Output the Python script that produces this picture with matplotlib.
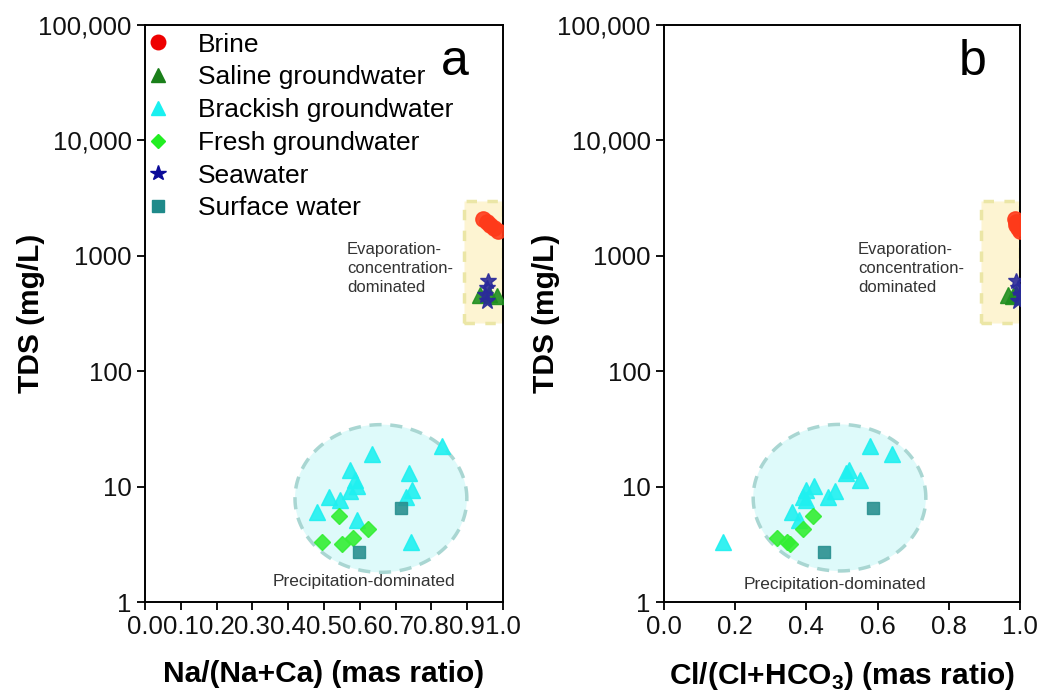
import matplotlib
matplotlib.use("Agg")
import matplotlib.pyplot as plt
from matplotlib.lines import Line2D
import numpy as np

plt.rcParams['font.family'] = ['Liberation Sans', 'DejaVu Sans']
plt.rcParams['mathtext.fontset'] = 'custom'
plt.rcParams['mathtext.rm'] = 'Liberation Sans'
plt.rcParams['mathtext.bf'] = 'Liberation Sans:bold'

# TDS (mg/L) per sample group, x-ratios for panel a (Na/(Na+Ca)) and b (Cl/(Cl+HCO3))
brine_tds = [2100, 1950, 1850, 1750, 1650]
brine_na = [0.944, 0.955, 0.965, 0.975, 0.985]
brine_cl = [0.985, 0.99, 0.99, 0.995, 1.0]

saline_tds = [460, 445, 470]
saline_na = [0.936, 0.983, 0.96]
saline_cl = [0.967, 0.981, 0.99]

brackish_tds = [22.7, 19.2, 13.8, 11.3, 10.2, 9.2, 8.1, 7.6, 6.0, 5.1, 13.1, 9.4, 8.2, 3.3]
brackish_na = [0.829, 0.633, 0.573, 0.587, 0.591, 0.573, 0.514, 0.545, 0.48, 0.591, 0.738, 0.745, 0.729, 0.743]
brackish_cl = [0.58, 0.64, 0.52, 0.55, 0.42, 0.48, 0.46, 0.40, 0.36, 0.38, 0.51, 0.40, 0.39, 0.165]

fresh_tds = [5.6, 3.3, 3.2, 3.6, 4.3]
fresh_na = [0.542, 0.494, 0.551, 0.580, 0.624]
fresh_cl = [0.419, 0.345, 0.354, 0.317, 0.390]

sea_tds = [600, 525, 460, 405]
sea_na = [0.959, 0.955, 0.95, 0.955]
sea_cl = [0.99, 0.995, 1.0, 0.995]

surface_tds = [6.5, 2.7]
surface_na = [0.714, 0.599]
surface_cl = [0.588, 0.450]

groups = [
    ("Brine", 'o', '#ff3a1a', '#ee0000', 11, brine_tds, brine_na, brine_cl),
    ("Saline groundwater", '^', '#1f8f1f', '#1a7f1a', 11, saline_tds, saline_na, saline_cl),
    ("Brackish groundwater", '^', '#1ff0f0', '#19f0f0', 11, brackish_tds, brackish_na, brackish_cl),
    ("Fresh groundwater", 'D', '#33ee33', '#22ee22', 8, fresh_tds, fresh_na, fresh_cl),
    ("Seawater", '*', '#2a2a9a', '#0a0a99', 12, sea_tds, sea_na, sea_cl),
    ("Surface water", 's', '#2a9090', '#1f8a8a', 8.5, surface_tds, surface_na, surface_cl),
]

fig = plt.figure(figsize=(10.39, 6.96), dpi=100)
ax_a = fig.add_axes([145/1039, 94/696, 358/1039, 577/696])
ax_b = fig.add_axes([664/1039, 94/696, 356/1039, 577/696])

yticks = [1, 10, 100, 1000, 10000, 100000]
ylabels = ['1', '10', '100', '1000', '10,000', '100,000']


def draw_panel(ax, col, ell, txt_evap, txt_prec, letter):
    # evaporation box
    ax.fill([0.89, 1.0, 1.0, 0.89], [260, 260, 3000, 3000], facecolor='#fdf4d2',
            edgecolor='#ebe6a6', lw=2.5, ls=(0, (3, 3)), zorder=1)
    # precipitation ellipse (drawn in x / log10(TDS) space)
    t = np.linspace(0, 2*np.pi, 200)
    cx, rx, cy, ry = ell
    ex = cx + rx*np.cos(t)
    ey = 10**(cy + ry*np.sin(t))
    ax.fill(ex, ey, facecolor='#defafa', edgecolor='#a9d6d2', lw=2.5,
            ls=(0, (3.5, 2.5)), zorder=1)
    for name, m, c, lc, ms, tds, xa, xb in groups:
        xs = xa if col == 0 else xb
        ax.plot(xs, tds, ls='none', marker=m, color=c, ms=ms, mec=c, alpha=0.9, zorder=3)
    ax.text(txt_evap[0], txt_evap[1], "Evaporation-\nconcentration-\ndominated",
            fontsize=12, color='#333333', ha='left', va='center', linespacing=1.32)
    ax.text(txt_prec[0], txt_prec[1], "Precipitation-dominated", fontsize=12.5,
            color='#333333', ha='center', va='center')
    ax.text(0.866, 0.936, letter, transform=ax.transAxes, fontsize=36,
            ha='center', va='center')
    ax.set_yscale('log')
    ax.set_ylim(1, 100000)
    ax.set_xlim(0, 1)
    ax.set_yticks(yticks)
    ax.set_yticklabels(ylabels)
    ax.minorticks_off()
    ax.tick_params(direction='out', length=6, width=1.4, labelsize=18.5, colors='#111111')
    for s in ax.spines.values():
        s.set_linewidth(1.4)
    ax.set_ylabel("TDS (mg/L)", fontsize=21.5, fontweight='bold')


draw_panel(ax_a, 0, (0.659, 0.24, 0.897, 0.64), (0.564, 780), (0.612, 1.52), 'a')
draw_panel(ax_b, 1, (0.493, 0.2425, 0.904, 0.635), (0.545, 780), (0.48, 1.43), 'b')

ax_a.set_xticks(np.arange(0, 1.01, 0.1))
ax_a.set_xticklabels(['%.1f' % v for v in np.arange(0, 1.01, 0.1)])
ax_b.set_xticks(np.arange(0, 1.01, 0.2))
ax_b.set_xticklabels(['%.1f' % v for v in np.arange(0, 1.01, 0.2)])
ax_a.set_xlabel("Na/(Na+Ca) (mas ratio)", fontsize=21.5, fontweight='bold')
ax_b.set_xlabel(r"Cl/(Cl+HCO$_\mathbf{3}$) (mas ratio)", fontsize=21.5, fontweight='bold')

ax_a.yaxis.set_label_coords(-0.28, 0.5)
ax_b.yaxis.set_label_coords(-0.292, 0.5)
ax_a.xaxis.set_label_coords(0.5, -0.1)
ax_b.xaxis.set_label_coords(0.5, -0.1)

handles = [Line2D([], [], ls='none', marker=m, color=lc, ms=ms*0.95)
           for name, m, c, lc, ms, tds, xa, xb in groups]
labels = [g[0] for g in groups]
ax_a.legend(handles, labels, loc='upper left', bbox_to_anchor=(-0.03, 1.005), frameon=False,
            fontsize=19, handlelength=1.0, handletextpad=1.0, labelspacing=0.33,
            borderaxespad=0.0)

fig.savefig("out.png", dpi=100)
